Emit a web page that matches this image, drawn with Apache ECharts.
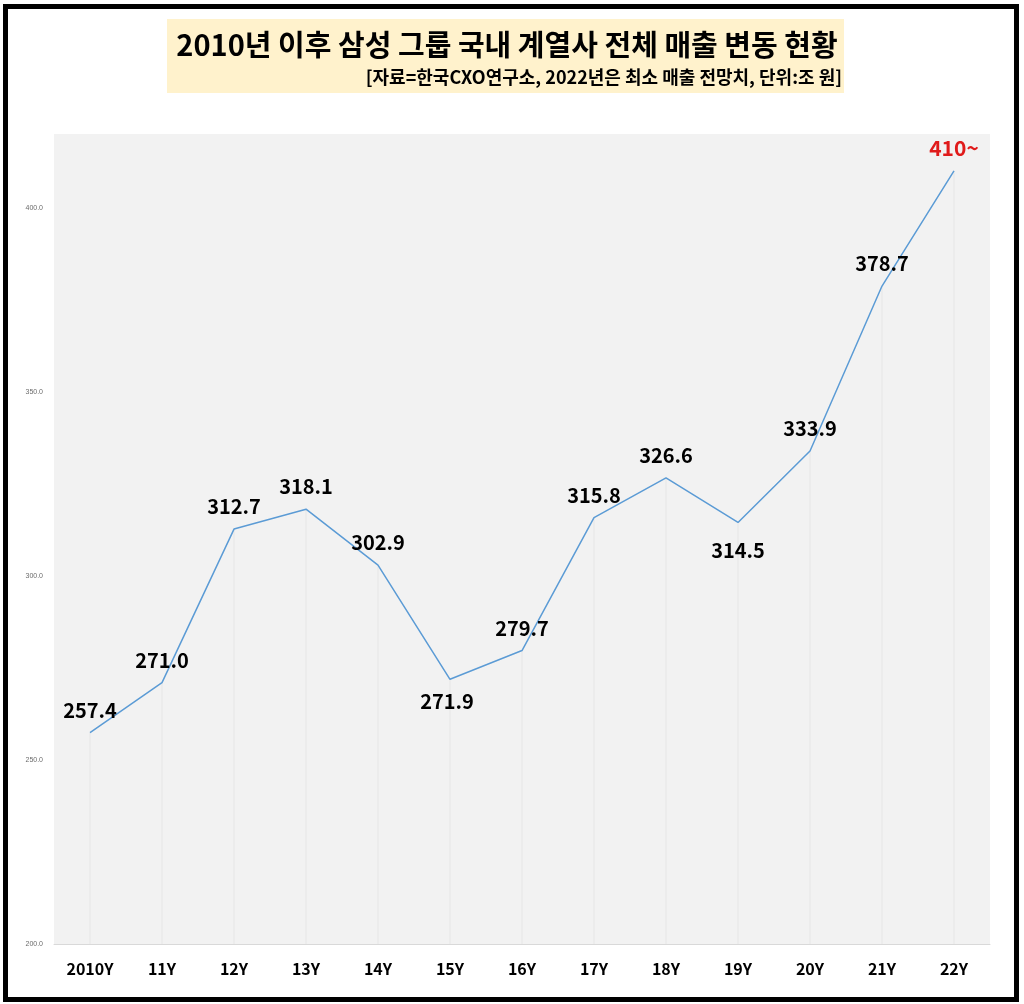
<!DOCTYPE html>
<html>
<head>
<meta charset="utf-8">
<script src="https://cdn.jsdelivr.net/npm/echarts@6/dist/echarts.min.js"></script>
<style>
html,body{margin:0;padding:0;background:#fff;}
#chart{width:1024px;height:1004px;}
</style>
</head>
<body>
<div id="chart"></div>
<script>
const categories = ['2010Y','11Y','12Y','13Y','14Y','15Y','16Y','17Y','18Y','19Y','20Y','21Y','22Y'];
const sales = [257.4, 271.0, 312.7, 318.1, 302.9, 271.9, 279.7, 315.8, 326.6, 314.5, 333.9, 378.7, 410];
const valueLabels = ['257.4','271.0','312.7','318.1','302.9','271.9','279.7','315.8','326.6','314.5','333.9','378.7','410~'];
const titleText = '2010년 이후 삼성 그룹 국내 계열사 전체 매출 변동 현황';
const subtitleText = '[자료=한국CXO연구소, 2022년은 최소 매출 전망치, 단위:조 원]';

const FONT = '"Noto Sans CJK KR", "Noto Sans", sans-serif';
const below = { '15Y': 12, '19Y': 17 };

const lineData = sales.map((v, i) => {
  const cat = categories[i];
  const isLast = i === sales.length - 1;
  const item = { value: v, label: { formatter: valueLabels[i] } };
  if (below[cat] !== undefined) {
    item.label.position = 'bottom';
    item.label.distance = below[cat];
  }
  if (cat === '15Y') item.label.offset = [-3, 0];
  if (isLast) {
    item.label.color = '#e01b1b';
    item.label.fontSize = 21;
  }
  return item;
});

const chart = echarts.init(document.getElementById('chart'));
chart.setOption({
  animation: false,
  backgroundColor: '#ffffff',
  graphic: [
    { type: 'rect', shape: { x: 5.5, y: 6.5, width: 1011, height: 993 },
      style: { fill: 'none', stroke: '#000', lineWidth: 5 }, z: 100 },
    { type: 'rect', shape: { x: 167, y: 19, width: 677, height: 74 },
      style: { fill: '#fff2cc' }, z: 1 },
    { type: 'text', x: 507, y: 45, z: 2,
      style: { text: titleText, font: 'bold 29px ' + FONT, fill: '#000',
               textAlign: 'center', textVerticalAlign: 'middle' } },
    { type: 'text', x: 842, y: 77, z: 2,
      style: { text: subtitleText, font: 'bold 18px ' + FONT, fill: '#000',
               textAlign: 'right', textVerticalAlign: 'middle' } }
  ],
  grid: { left: 54, right: 34, top: 134, bottom: 60, show: true,
          backgroundColor: '#f2f2f2', borderWidth: 0 },
  xAxis: {
    type: 'category',
    data: categories,
    boundaryGap: true,
    axisLine: { show: true, lineStyle: { color: '#d9d9d9', width: 1 } },
    axisTick: { show: false },
    axisLabel: { color: '#000', fontFamily: FONT, fontWeight: 'bold', fontSize: 16, margin: 17 },
    splitLine: { show: false }
  },
  yAxis: {
    type: 'value',
    min: 200, max: 420, interval: 50,
    axisLine: { show: false },
    axisTick: { show: false },
    splitLine: { show: false },
    axisLabel: { color: '#6b6b6b', fontSize: 7, margin: 11, showMaxLabel: false,
                 formatter: v => v.toFixed(1) }
  },
  series: [
    {
      type: 'bar',
      data: sales,
      barWidth: 1,
      itemStyle: { color: '#e6e6e6' },
      silent: true,
      z: 1
    },
    {
      type: 'line',
      data: lineData,
      symbol: 'circle',
      symbolSize: 1,
      showSymbol: true,
      itemStyle: { color: '#5b9bd5', opacity: 0 },
      lineStyle: { color: '#5b9bd5', width: 1.5 },
      label: { show: true, position: 'top', distance: 12, color: '#000',
               fontFamily: FONT, fontWeight: 'bold', fontSize: 20, opacity: 1 },
      z: 3
    }
  ]
});
</script>
</body>
</html>
